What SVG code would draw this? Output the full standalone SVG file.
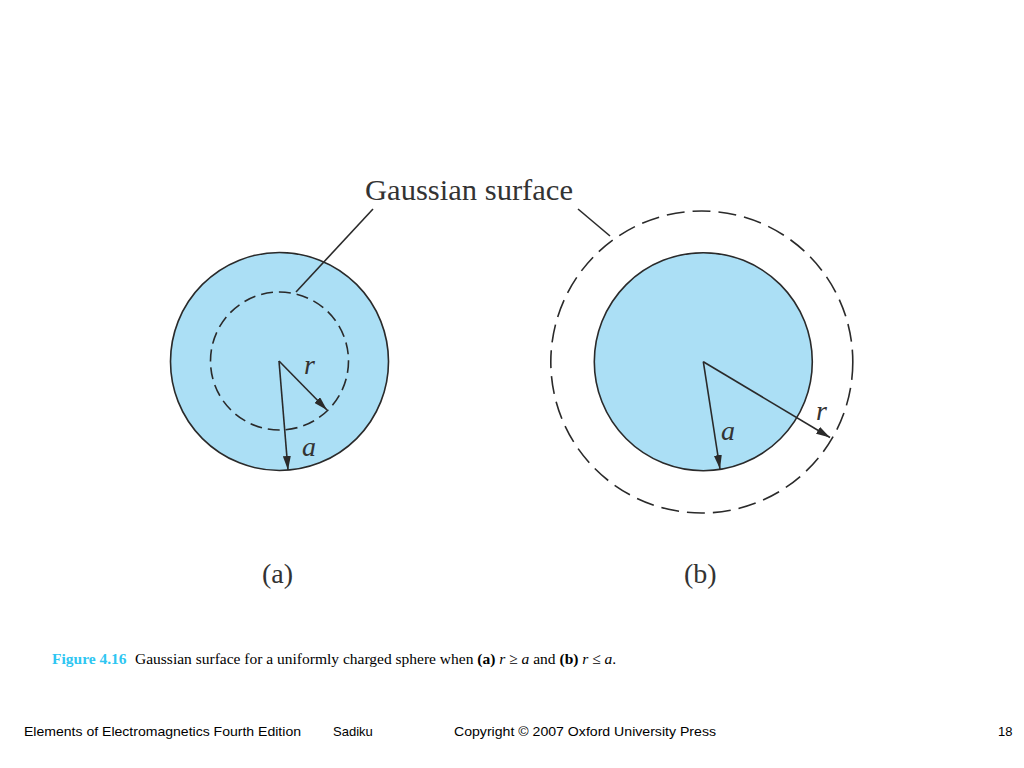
<svg xmlns="http://www.w3.org/2000/svg" width="1024" height="768" viewBox="0 0 1024 768">
<style>
.ball{fill:#abdff5;stroke:#2a2a2a;stroke-width:1.6}
.gs{fill:none;stroke:#2a2a2a;stroke-width:1.6}
.ln{stroke:#2a2a2a;stroke-width:1.6;fill:none}
.lbl{font-family:"Liberation Serif",serif;font-style:italic;font-size:28px;fill:#333}
.ser{font-family:"Liberation Serif",serif;fill:#333}
.foot{font-family:"Liberation Sans",Arial,sans-serif;font-size:13px;fill:#000}
</style>
<defs>
<marker id="ah" viewBox="0 0 14 8" refX="14" refY="4" markerWidth="14" markerHeight="8" markerUnits="userSpaceOnUse" orient="auto">
<path d="M0,0 L14,4 L0,8 Z" fill="#2a2a2a"/>
</marker>
</defs>
<rect width="1024" height="768" fill="#fff"/>
<g id="label-gaussian">
<text class="ser" x="365" y="200" font-size="29" textLength="208" lengthAdjust="spacingAndGlyphs">Gaussian surface</text>
</g>
<g id="node-a">
<circle class="ball" cx="279.5" cy="361.5" r="109"/>
<circle class="gs" cx="279.5" cy="361" r="69" stroke-dasharray="12 6"/>
<text class="lbl" x="304" y="374">r</text>
<text class="lbl" x="302" y="456">a</text>
<text class="ser" x="262" y="583" font-size="28">(a)</text>
</g>
<g id="node-b">
<circle class="ball" cx="703.3" cy="361.7" r="109"/>
<circle class="gs" cx="701.8" cy="362" r="151" stroke-dasharray="18 8"/>
<text class="lbl" x="816" y="420">r</text>
<text class="lbl" x="721" y="440">a</text>
<text class="ser" x="684" y="583" font-size="28">(b)</text>
</g>
<g id="connectors">
<line class="ln" x1="373" y1="209" x2="296" y2="292"/>
<line class="ln" x1="578" y1="209" x2="610" y2="236"/>
<line class="ln" x1="279" y1="361" x2="327" y2="410" marker-end="url(#ah)"/>
<line class="ln" x1="279" y1="361" x2="288" y2="470" marker-end="url(#ah)"/>
<line class="ln" x1="703.3" y1="361.7" x2="830" y2="437.5" marker-end="url(#ah)"/>
<line class="ln" x1="703.3" y1="361.7" x2="720" y2="469" marker-end="url(#ah)"/>
</g>
<g id="caption">
<text x="52" y="664" font-family="Liberation Serif,serif" font-size="15.5"><tspan font-weight="bold" fill="#2ec6f2">Figure 4.16</tspan><tspan x="135" fill="#000">Gaussian surface for a uniformly charged sphere when <tspan font-weight="bold">(a)</tspan> <tspan font-style="italic">r</tspan> ≥ <tspan font-style="italic">a</tspan> and <tspan font-weight="bold">(b)</tspan> <tspan font-style="italic">r</tspan> ≤ <tspan font-style="italic">a</tspan>.</tspan></text>
</g>
<g id="footer">
<text class="foot" x="24" y="736" textLength="277" lengthAdjust="spacingAndGlyphs">Elements of Electromagnetics Fourth Edition</text>
<text class="foot" x="333" y="736">Sadiku</text>
<text class="foot" x="454" y="736" textLength="262" lengthAdjust="spacingAndGlyphs">Copyright © 2007 Oxford University Press</text>
<text class="foot" x="998" y="736">18</text>
</g>
</svg>
